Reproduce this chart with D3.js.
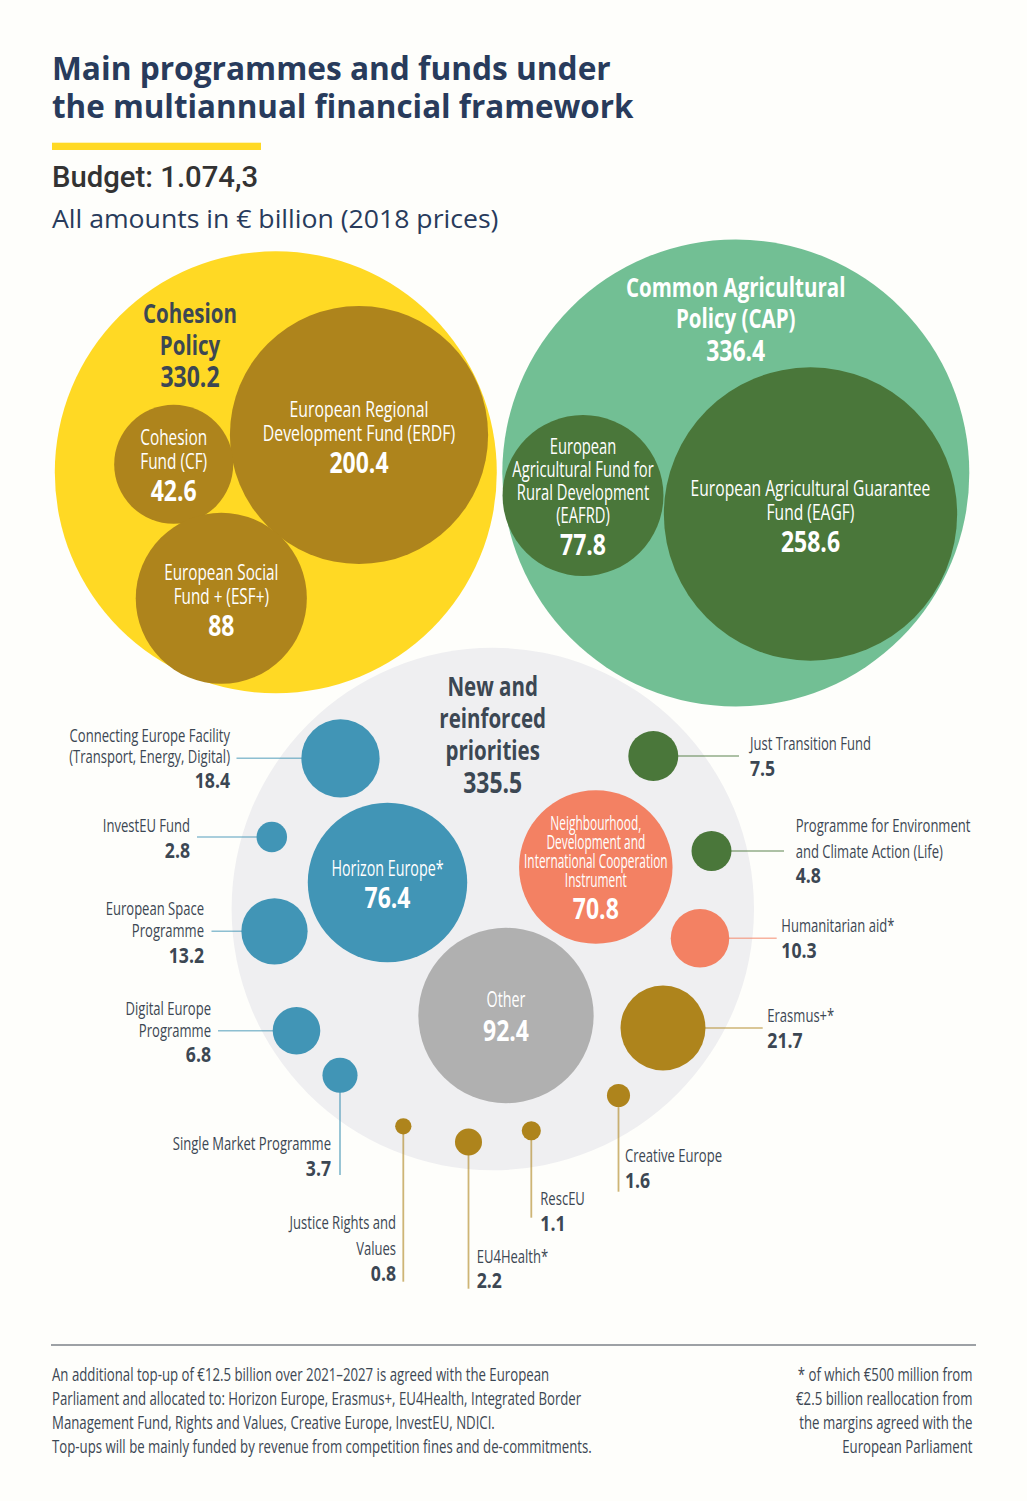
<!DOCTYPE html>
<html>
<head>
  <meta charset="UTF-8">
  <title>Main programmes and funds</title>
  <script src="https://d3js.org/d3.v7.min.js"></script>
  <style>
    html, body { margin:0; padding:0; background:#fefefb; }
    svg { display:block; }
  </style>
</head>
<body>
<div id="chart"></div>
<script>
// data
const titleLines = ['Main programmes and funds under', 'the multiannual financial framework'];
const budgetLabel = 'Budget: 1.074,3';
const unitLabel = 'All amounts in € billion (2018 prices)';

const groupNames = ['Cohesion\nPolicy', 'Common Agricultural\nPolicy (CAP)', 'New and\nreinforced\npriorities'];
const groupValues = [330.2, 336.4, 335.5];

const insideNames = [
  'European Regional\nDevelopment Fund (ERDF)', 'Cohesion\nFund (CF)', 'European Social\nFund + (ESF+)',
  'European\nAgricultural Fund for\nRural Development\n(EAFRD)', 'European Agricultural Guarantee\nFund (EAGF)',
  'Horizon Europe*', 'Neighbourhood,\nDevelopment and\nInternational Cooperation\nInstrument', 'Other'
];
const insideValues = [200.4, 42.6, 88, 77.8, 258.6, 76.4, 70.8, 92.4];

const calloutNames = [
  'Connecting Europe Facility\n(Transport, Energy, Digital)', 'InvestEU Fund', 'European Space\nProgramme',
  'Digital Europe\nProgramme', 'Single Market Programme', 'Justice Rights and\nValues', 'EU4Health*', 'RescEU',
  'Creative Europe', 'Just Transition Fund', 'Programme for Environment\nand Climate Action (Life)',
  'Humanitarian aid*', 'Erasmus+*'
];
const calloutValues = [18.4, 2.8, 13.2, 6.8, 3.7, 0.8, 2.2, 1.1, 1.6, 7.5, 4.8, 10.3, 21.7];

const noteLines = [
  'An additional top-up of €12.5 billion over 2021–2027 is agreed with the European',
  'Parliament and allocated to: Horizon Europe, Erasmus+, EU4Health, Integrated Border',
  'Management Fund, Rights and Values, Creative Europe, InvestEU, NDICI.',
  'Top-ups will be mainly funded by revenue from competition fines and de-commitments.'
];
const asteriskLines = ['* of which €500 million from', '€2.5 billion reallocation from', 'the margins agreed with the', 'European Parliament'];

// layout, kept apart from the values
const yellow = '#ffd924', brown = '#ae841c', mint = '#72bf94', green = '#4a773a',
      pale = '#efeff1', blue = '#4195b6', coral = '#f38163', grey = '#b0b0b0',
      ink = '#3c4753', navy = '#283b5c', paper = '#fefefb';

const groupLayout = [
  {cx:275.8, cy:472.3, r:221,   fill:yellow, color:ink,     x:190,   ys:[322.7,354.7], vy:386.7},
  {cx:735.8, cy:473,   r:233.5, fill:mint,   color:'#fff',  x:735.7, ys:[296.7,328.3], vy:360.7},
  {cx:492.8, cy:909,   r:261.2, fill:pale,   color:ink,     x:492.7, ys:[696,728,760], vy:792.5}
];
const insideLayout = [
  {cx:359,   cy:435,    fill:brown, sx:.72,  ys:[416.7,441],          vy:473},
  {cx:173.7, cy:464.3,  fill:brown, sx:.70,  ys:[445,469],            vy:501},
  {cx:221.3, cy:598.3,  fill:brown, sx:.695, ys:[580,604],            vy:636},
  {cx:583,   cy:495.5,  fill:green, sx:.67,  ys:[454,476.7,500,522.7],vy:555.3},
  {cx:810.5, cy:514,    fill:green, sx:.71,  ys:[495.7,520],          vy:552},
  {cx:387.5, cy:882.5,  fill:blue,  sx:.65,  ys:[876],                vy:908.3},
  {cx:595.8, cy:867,    fill:coral, sx:.61,  ys:[830.3,849.3,868.3,887.3], vy:919.3, size:19.5},
  {cx:506,   cy:1015.5, fill:grey,  sx:.65,  ys:[1007.3],             vy:1041}
];
// dir: side the leader leaves the bubble, end: where the leader stops
const calloutLayout = [
  {cx:340.5, cy:758.3,  fill:blue,  dir:'left',  end:236.5,  tx:230,   anchor:'end',   ys:[741.7,763.3],  vy:788.3},
  {cx:271.8, cy:837,    fill:blue,  dir:'left',  end:197,    tx:190,   anchor:'end',   ys:[831.7],        vy:857.7},
  {cx:274.5, cy:931.3,  fill:blue,  dir:'left',  end:211.5,  tx:204,   anchor:'end',   ys:[915,936.7],    vy:963.3},
  {cx:296.5, cy:1030.7, fill:blue,  dir:'left',  end:218,    tx:211,   anchor:'end',   ys:[1015,1036.7],  vy:1062.3},
  {cx:340,   cy:1075.3, fill:blue,  dir:'down',  end:1175,   tx:331,   anchor:'end',   ys:[1150],         vy:1175.7},
  {cx:403.3, cy:1126.3, fill:brown, dir:'down',  end:1281.7, tx:396,   anchor:'end',   ys:[1229,1255],    vy:1280.7},
  {cx:468.5, cy:1142,   fill:brown, dir:'down',  end:1288.7, tx:476.7, anchor:'start', ys:[1263.3],       vy:1288.3},
  {cx:531.3, cy:1130.7, fill:brown, dir:'down',  end:1217.7, tx:540.3, anchor:'start', ys:[1205],         vy:1230.7},
  {cx:618.5, cy:1095.5, fill:brown, dir:'down',  end:1191.7, tx:625,   anchor:'start', ys:[1161.7],       vy:1187.7},
  {cx:653.3, cy:756,    fill:green, dir:'right', end:739,    tx:750,   anchor:'start', ys:[750],          vy:775.7},
  {cx:711.5, cy:851,    fill:green, dir:'right', end:784,    tx:795.7, anchor:'start', ys:[832.3,858.3],  vy:883.3},
  {cx:700,   cy:938.3,  fill:coral, dir:'right', end:776.7,  tx:781.3, anchor:'start', ys:[932.3],        vy:957.7},
  {cx:663,   cy:1028,   fill:brown, dir:'right', end:762.7,  tx:767.3, anchor:'start', ys:[1021.7],       vy:1047.7}
];

const W = 1027, H = 1501;
const svg = d3.select('#chart').append('svg').attr('width', W).attr('height', H);
svg.append('rect').attr('width', W).attr('height', H).attr('fill', paper);

// the fund bubbles share one area scale, the three big circles are not drawn to it
const radius = d3.scaleSqrt().domain([0, 100]).range([0, 91.2]);

// narrow the text sideways, the page has no condensed font
const NARROW = 0.705, NARROW_BOLD = 0.76, NARROW_VALUE = 0.82, NARROW_NOTE = 0.755;
function put(g, str, x, y, o){
  o = o || {};
  const sx = o.sx || NARROW;
  return g.append('text')
    .attr('transform', `translate(${x},${y}) scale(${sx},1)`)
    .attr('text-anchor', o.anchor || 'middle')
    .attr('font-family', o.family || '"Open Sans", sans-serif')
    .attr('font-size', o.size || 22)
    .attr('font-weight', o.weight || 400)
    .attr('fill', o.fill || ink)
    .text(str);
}

const page = svg.append('g');
titleLines.forEach((t,i) => put(page, t, 52, [80,118.3][i], {anchor:'start', size:33, weight:700, fill:navy, sx:[.96,.951][i]}));
page.append('rect').attr('x',52).attr('y',142.7).attr('width',209).attr('height',7.3).attr('fill',yellow);
put(page, budgetLabel, 52, 186.7, {anchor:'start', size:29, weight:500, fill:'#333', sx:1.01, family:'Roboto, sans-serif'});
put(page, unitLabel, 52, 228.3, {anchor:'start', size:26, fill:navy, sx:1.024});

// big circles
const groups = groupLayout.map((l,i) => ({...l, name:groupNames[i], value:groupValues[i]}));
svg.append('g').selectAll('circle').data(groups).join('circle')
  .attr('cx', d=>d.cx).attr('cy', d=>d.cy).attr('r', d=>d.r).attr('fill', d=>d.fill);

// leaders go under the bubbles
const callouts = calloutLayout.map((l,i) => ({...l, name:calloutNames[i], value:calloutValues[i], r:radius(calloutValues[i])}));
svg.append('g').selectAll('line').data(callouts).join('line')
  .attr('x1', d=>d.cx)
  .attr('y1', d=>d.cy)
  .attr('x2', d=>d.dir==='down' ? d.cx : d.end)
  .attr('y2', d=>d.dir==='down' ? d.end : d.cy)
  .attr('stroke', d=>d.fill)
  .attr('stroke-opacity', 0.6)
  .attr('stroke-width', d=>d.dir==='down' ? 1.8 : 1.5);

const insides = insideLayout.map((l,i) => ({...l, name:insideNames[i], value:insideValues[i], r:radius(insideValues[i])}));
svg.append('g').selectAll('circle').data(insides.concat(callouts)).join('circle')
  .attr('cx', d=>d.cx).attr('cy', d=>d.cy).attr('r', d=>d.r).attr('fill', d=>d.fill);

// text
const labels = svg.append('g');
groups.forEach(d => {
  d.name.split('\n').forEach((t,i) => put(labels, t, d.x, d.ys[i], {size:27, weight:700, fill:d.color, sx:NARROW_BOLD}));
  put(labels, d3.format('.1f')(d.value), d.x, d.vy, {size:28, weight:700, fill:d.color, sx:NARROW_VALUE});
});
insides.forEach(d => {
  d.name.split('\n').forEach((t,i) => put(labels, t, d.cx, d.ys[i], {size:d.size||22, fill:'#fff', sx:d.sx}));
  put(labels, String(d.value), d.cx, d.vy, {size:28, weight:700, fill:'#fff', sx:NARROW_VALUE});
});
callouts.forEach(d => {
  d.name.split('\n').forEach((t,i) => put(labels, t, d.tx, d.ys[i], {size:18.5, anchor:d.anchor}));
  put(labels, String(d.value), d.tx, d.vy, {size:21, weight:700, anchor:d.anchor, sx:.84});
});

// footer
svg.append('line').attr('x1',51).attr('x2',976).attr('y1',1345).attr('y2',1345)
  .attr('stroke','#7d8288').attr('stroke-width',1.4);
const noteY = [1380.7,1405,1429,1452.7];
noteLines.forEach((t,i) => put(labels, t, 52, noteY[i], {size:17.5, anchor:'start', sx:NARROW_NOTE}));
asteriskLines.forEach((t,i) => put(labels, t, 972.5, noteY[i], {size:17.5, anchor:'end', sx:NARROW_NOTE}));
</script>
</body>
</html>
